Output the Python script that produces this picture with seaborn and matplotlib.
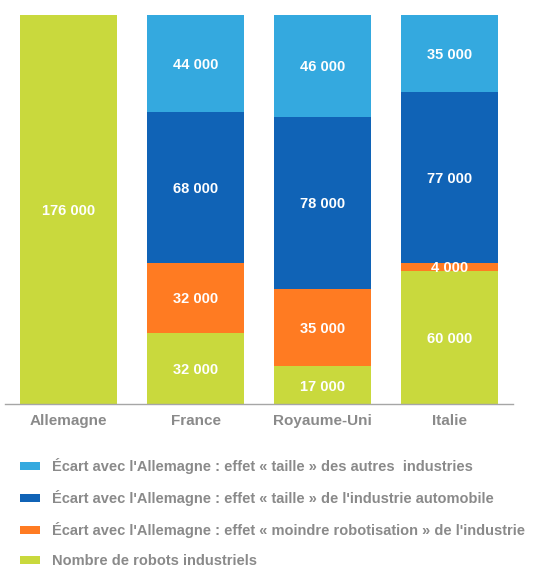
import matplotlib
matplotlib.use("Agg")
import matplotlib.pyplot as plt
import seaborn as sns
import pandas as pd
import numpy as np
from matplotlib.patches import Rectangle

countries = ["Allemagne", "France", "Royaume-Uni", "Italie"]
robots = [176000, 32000, 17000, 60000]
robotisation = [0, 32000, 35000, 4000]
auto_size = [0, 68000, 78000, 77000]
other_size = [0, 44000, 46000, 35000]

series_labels = [
    "Écart avec l'Allemagne : effet « taille » des autres  industries",
    "Écart avec l'Allemagne : effet « taille » de l'industrie automobile",
    "Écart avec l'Allemagne : effet « moindre robotisation » de l'industrie",
    "Nombre de robots industriels",
]

c_light = "#34A9DF"
c_dark = "#1063B6"
c_orange = "#FF7B22"
c_green = "#C9D93D"
grey = "#8A8A8A"

sns.set_theme(style="white")
plt.rcParams["font.family"] = ["Liberation Sans", "DejaVu Sans"]

df = pd.DataFrame({
    "country": countries,
    "robots": robots,
    "robotisation": robotisation,
    "auto": auto_size,
    "other": other_size,
})
df["c1"] = df["robots"]
df["c2"] = df["c1"] + df["robotisation"]
df["c3"] = df["c2"] + df["auto"]
df["c4"] = df["c3"] + df["other"]

fig = plt.figure(figsize=(5.39, 5.67), dpi=100)
ax = fig.add_axes([5 / 539, 1 - 404 / 567, 508 / 539, 389 / 567])

width = 0.77
for col, color in [("c4", c_light), ("c3", c_dark), ("c2", c_orange), ("c1", c_green)]:
    sns.barplot(data=df, x="country", y=col, color=color, width=width,
                saturation=1, ax=ax, edgecolor="none", linewidth=0)

ax.set_xlim(-0.5, 3.5)
ax.set_ylim(0, 176000)
ax.set_xlabel("")
ax.set_ylabel("")
ax.set_yticks([])
for s in ["top", "right", "left"]:
    ax.spines[s].set_visible(False)
ax.spines["bottom"].set_color("#A6A6A6")
ax.spines["bottom"].set_linewidth(1.0)
ax.set_xticks(range(len(countries)))
ax.set_xticklabels(countries, fontsize=11, fontweight="bold", color=grey)
for lab in ax.get_xticklabels():
    lab.set_va("baseline")
ax.tick_params(axis="x", length=0, pad=15)
ax.set_xticks(np.arange(-0.5, 4.0, 1.0), minor=True)
ax.tick_params(axis="x", which="minor", length=3, color="#A6A6A6", width=1, direction="out")

def fmt(v):
    return f"{v:,}".replace(",", " ")

for i in range(len(countries)):
    segs = [(0, robots[i]), (df["c1"][i], robotisation[i]), (df["c2"][i], auto_size[i]), (df["c3"][i], other_size[i])]
    for base, val in segs:
        if val > 0:
            ax.text(i, base + val / 2, fmt(val), ha="center", va="center_baseline",
                    color="white", fontsize=10.5, fontweight="bold")

handles = [Rectangle((0, 0), 1, 1, facecolor=c, edgecolor="none")
           for c in [c_light, c_dark, c_orange, c_green]]
leg = fig.legend(handles, series_labels, loc="upper left",
                 bbox_to_anchor=(20 / 539, 1 - 458 / 567), frameon=False,
                 prop={"size": 10.5, "weight": "bold"}, labelcolor=grey,
                 handlelength=1.37, handleheight=0.42, handletextpad=0.82,
                 labelspacing=1.1, borderaxespad=0, borderpad=0)

fig.savefig("out.png", dpi=100)
